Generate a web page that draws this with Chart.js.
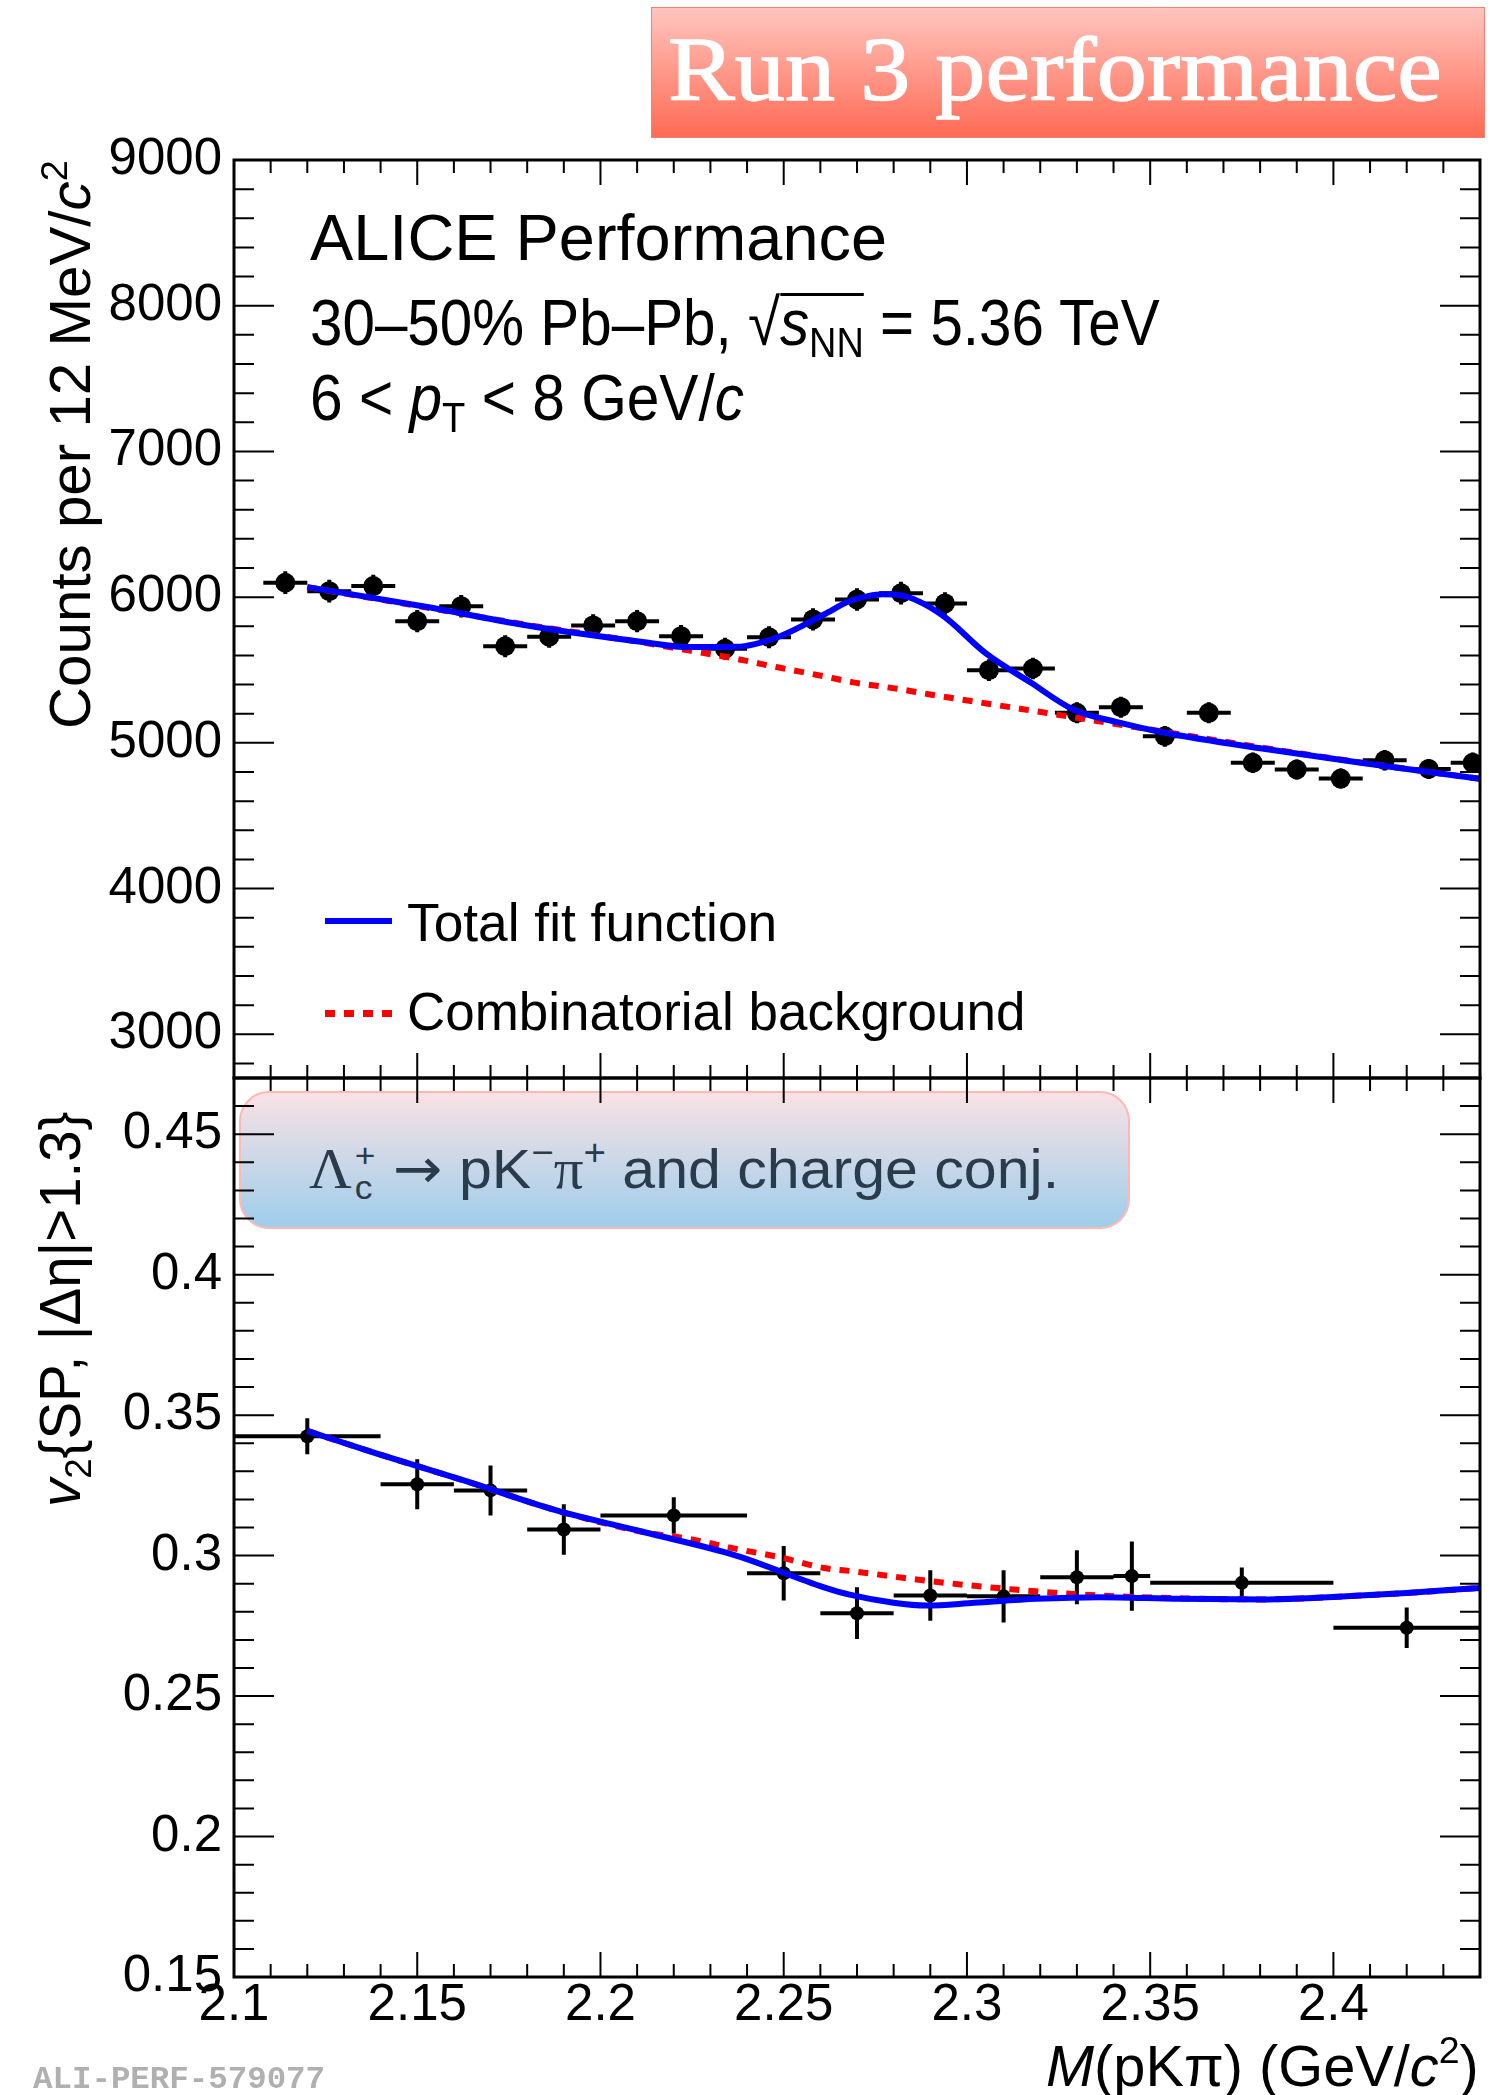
<!DOCTYPE html>
<html>
<head>
<meta charset="utf-8">
<title>Lambda_c v2 vs invariant mass</title>
<script src="https://cdn.jsdelivr.net/npm/chart.js@4.4.1/dist/chart.umd.min.js"></script>
<style>
  html, body { margin: 0; padding: 0; background: #fff; }
  body { position: relative; width: 1502px; height: 2095px; overflow: hidden;
         font-family: "Liberation Sans", Arial, sans-serif; color: #000; }
  canvas { position: absolute; left: 0; }
  .t { position: absolute; white-space: nowrap; line-height: 1; }
  .fit { display: inline-block; transform-origin: 0 0; white-space: nowrap; }
  .rot { position: absolute; transform: rotate(-90deg); transform-origin: 0 0;
         white-space: nowrap; line-height: 1; font-size: 58px; }
  sub, sup { font-size: 0.65em; line-height: 0; }
  sub { vertical-align: -0.28em; }
  sup { vertical-align: 0.62em; }
  .ov { position: relative; }
  .ov::before { content: ""; position: absolute; left: 0; right: 0; top: 0.1em; border-top: 3px solid #000; }
  .gk { font-family: "Liberation Serif", serif; }
  .arr { font-family: "DejaVu Sans", sans-serif; }
  .ss { position: relative; display: inline-block; width: 0.42em; height: 1em; }
  .ss span { position: absolute; left: 0.08em; font-size: 0.6em; }
  #run3 { position: absolute; left: 651px; top: 7px; width: 832px; height: 129px;
          border: 1px solid #ff7b6b; background: linear-gradient(#ffc5be, #ff6a55); }
  #run3 .fit { position: absolute; left: 16px; top: 16.6px; font-family: "Liberation Serif", serif;
               font-size: 90px; line-height: 1; color: #fff; -webkit-text-stroke: 1.3px #fff; }
  #lcBox { position: absolute; left: 239px; top: 1091px; width: 887px; height: 134px;
           border: 2px solid #ffb9b2; border-radius: 30px; background: linear-gradient(#f9e2e5, #9fcdea); }
</style>
</head>
<body>

<div id="lcBox"></div>
<div class="t" style="left:309px;top:1132px;font-size:56px;color:#2a3b4c">
  <span class="fit" data-w="750"><span class="gk">Λ</span><span class="ss"><span style="top:0.2em">+</span><span style="top:1.17em">c</span></span> <span class="arr">→</span> pK<sup>−</sup><span class="gk">π</span><sup>+</sup> and charge conj.</span>
</div>

<canvas id="massChart" width="1502" height="1123" style="top:0"></canvas>
<canvas id="v2Chart" width="1502" height="1062" style="top:1033px"></canvas>

<div id="run3"><span class="fit" data-w="774">Run 3 performance</span></div>

<div class="t" style="left:310px;top:205px;font-size:65px"><span class="fit" data-w="577">ALICE Performance</span></div>
<div class="t" style="left:310px;top:290px;font-size:65px"><span class="fit" data-w="850">30–50% Pb–Pb, √<span class="ov"><i>s</i><sub>NN</sub></span> = 5.36 TeV</span></div>
<div class="t" style="left:310px;top:365px;font-size:65px"><span class="fit" data-w="434">6 &lt; <i>p</i><sub>T</sub> &lt; 8 GeV/<i>c</i></span></div>

<div style="position:absolute;left:325px;top:918px;width:67px;height:6px;background:#0000ff"></div>
<div style="position:absolute;left:325px;top:1010px;width:67px;height:7px;background:repeating-linear-gradient(90deg,#ff0000 0 10px,transparent 10px 19px)"></div>
<div class="t" style="left:407px;top:895px;font-size:54px"><span class="fit" data-w="370">Total fit function</span></div>
<div class="t" style="left:407px;top:984px;font-size:54px"><span class="fit" data-w="618">Combinatorial background</span></div>

<div class="rot" style="left:41px;top:729px"><span class="fit" data-w="569">Counts per 12 MeV/<i>c</i><sup>2</sup></span></div>
<div class="rot" style="left:31px;top:1507px"><span class="fit" data-w="395"><i>v</i><sub>2</sub>{SP, |Δη|&gt;1.3}</span></div>
<div class="t" style="left:1046px;top:2037px;font-size:58px"><span class="fit" data-w="433"><i>M</i>(pKπ) (GeV/<i>c</i><sup>2</sup>)</span></div>

<div class="t" style="left:33px;top:2064px;font-size:32px;font-family:'Liberation Mono',monospace;font-weight:bold;color:#b0b0b0"><span class="fit" data-w="292">ALI-PERF-579077</span></div>

<script>
// x axis (invariant mass, GeV/c^2)
const massTicks = [2.1, 2.15, 2.2, 2.25, 2.3, 2.35, 2.4];

// top pad: counts per 12 MeV/c^2
const massBins = [2.114, 2.126, 2.138, 2.150, 2.162, 2.174, 2.186, 2.198, 2.210, 2.222,
                  2.234, 2.246, 2.258, 2.270, 2.282, 2.294, 2.306, 2.318, 2.330, 2.342,
                  2.354, 2.366, 2.378, 2.390, 2.402, 2.414, 2.426, 2.438];
const massBinHalf = [0.006, 0.006, 0.006, 0.006, 0.006, 0.006, 0.006, 0.006, 0.006, 0.006,
                     0.006, 0.006, 0.006, 0.006, 0.006, 0.006, 0.006, 0.006, 0.006, 0.006,
                     0.006, 0.006, 0.006, 0.006, 0.006, 0.006, 0.006, 0.006];
const counts = [6099, 6041, 6076, 5835, 5938, 5663, 5728, 5806, 5835, 5732,
                5646, 5725, 5847, 5984, 6027, 5957, 5499, 5510, 5206, 5245,
                5045, 5206, 4863, 4817, 4755, 4881, 4821, 4863];
const countsErr = [78, 78, 78, 76, 77, 75, 76, 76, 76, 76,
                   75, 76, 76, 77, 78, 77, 74, 74, 72, 72,
                   71, 72, 70, 69, 69, 70, 69, 70];
const countTicks = [3000, 4000, 5000, 6000, 7000, 8000, 9000];

const massFitX = [2.120, 2.1515, 2.182, 2.212, 2.224, 2.237, 2.249, 2.261, 2.268, 2.273,
                  2.277, 2.282, 2.293, 2.305, 2.3175, 2.329, 2.341, 2.354, 2.381, 2.409, 2.44];
const massFitY = [6069, 5938, 5797, 5691, 5657, 5659, 5732, 5881, 5973, 6007,
                  6019, 6012, 5881, 5618, 5412, 5229, 5142, 5069, 4959, 4858, 4753];
const massBkgX = [2.120, 2.15, 2.18, 2.21, 2.224, 2.237, 2.249, 2.261, 2.269, 2.281,
                  2.290, 2.313, 2.336, 2.354, 2.381, 2.409, 2.44];
const massBkgY = [6069, 5940, 5810, 5695, 5635, 5577, 5515, 5457, 5415, 5371,
                  5332, 5240, 5148, 5075, 4965, 4860, 4753];

// bottom pad: v2{SP}
const v2Bins = [2.12, 2.15, 2.17, 2.19, 2.22, 2.25, 2.27, 2.29, 2.31, 2.33, 2.345, 2.375, 2.42];
const v2BinHalf = [0.02, 0.01, 0.01, 0.01, 0.02, 0.01, 0.01, 0.01, 0.01, 0.01, 0.005, 0.025, 0.02];
const v2Values = [0.3425, 0.3254, 0.3232, 0.3093, 0.3143, 0.2937, 0.2795, 0.2858, 0.2855, 0.2923, 0.2927, 0.2903, 0.2743];
const v2Err = [0.0064, 0.0089, 0.0089, 0.0090, 0.0065, 0.0097, 0.0092, 0.0090, 0.0093, 0.0096, 0.0123, 0.0055, 0.0072];
const v2Ticks = [0.15, 0.2, 0.25, 0.3, 0.35, 0.4, 0.45];

const v2FitX = [2.120, 2.139, 2.164, 2.188, 2.212, 2.237, 2.261, 2.268, 2.280, 2.289,
                2.302, 2.319, 2.336, 2.358, 2.381, 2.4035, 2.420, 2.44];
const v2FitY = [0.3444, 0.3363, 0.3262, 0.3161, 0.3083, 0.3000, 0.2887, 0.2861, 0.2832, 0.2822,
                0.2832, 0.2846, 0.2852, 0.2846, 0.2844, 0.2855, 0.2867, 0.2885];
const v2BkgX = [2.120, 2.139, 2.164, 2.188, 2.212, 2.224, 2.237, 2.249, 2.261, 2.269,
                2.290, 2.313, 2.336, 2.358, 2.381, 2.4035, 2.420, 2.44];
const v2BkgY = [0.3444, 0.3363, 0.3262, 0.3161, 0.3083, 0.3060, 0.3024, 0.2994, 0.2956, 0.2944,
                0.2909, 0.2879, 0.2858, 0.2848, 0.2844, 0.2855, 0.2867, 0.2885];

Chart.defaults.font.family = "'Liberation Sans', Arial, sans-serif";
Chart.defaults.color = "#000";

function pts(xs, ys) {
    return xs.map((x, i) => ({ x: x, y: ys[i] }));
}

// ROOT style frame with inward ticks on all four sides
function rootFrame(yFirst, yLast, yMinor, yMajor) {
    return {
        id: "rootFrame",
        afterDraw(chart) {
            const ctx = chart.ctx, a = chart.chartArea;
            const xs = chart.scales.x, ys = chart.scales.y;
            ctx.save();
            ctx.strokeStyle = "#000";
            ctx.lineWidth = 2;
            ctx.beginPath();
            for (let i = 0; i <= 34; i++) {
                const px = xs.getPixelForValue(2.1 + i * 0.01);
                const len = i % 5 === 0 ? 25 : 13;
                ctx.moveTo(px, a.bottom); ctx.lineTo(px, a.bottom - len);
                ctx.moveTo(px, a.top); ctx.lineTo(px, a.top + len);
            }
            const n = Math.round((yLast - yFirst) / yMinor);
            for (let i = 0; i <= n; i++) {
                const v = yFirst + i * yMinor;
                const py = ys.getPixelForValue(v);
                const r = v / yMajor;
                const len = Math.abs(r - Math.round(r)) < 1e-6 ? 40 : 20;
                ctx.moveTo(a.left, py); ctx.lineTo(a.left + len, py);
                ctx.moveTo(a.right, py); ctx.lineTo(a.right - len, py);
            }
            ctx.stroke();
            ctx.lineWidth = 3;
            ctx.strokeRect(a.left, a.top, a.right - a.left, a.bottom - a.top);
            ctx.restore();
        }
    };
}

// horizontal (bin width) and vertical (stat.) error bars
function errorBars(xv, xe, yv, ye) {
    return {
        id: "errorBars",
        beforeDatasetsDraw(chart) {
            const ctx = chart.ctx, a = chart.chartArea;
            const xs = chart.scales.x, ys = chart.scales.y;
            ctx.save();
            ctx.beginPath();
            ctx.rect(a.left, a.top, a.right - a.left, a.bottom - a.top);
            ctx.clip();
            ctx.strokeStyle = "#000";
            ctx.lineWidth = 4;
            ctx.beginPath();
            xv.forEach((x, i) => {
                const px = xs.getPixelForValue(x);
                const py = ys.getPixelForValue(yv[i]);
                ctx.moveTo(xs.getPixelForValue(x - xe[i]), py);
                ctx.lineTo(xs.getPixelForValue(x + xe[i]), py);
                ctx.moveTo(px, ys.getPixelForValue(yv[i] - ye[i]));
                ctx.lineTo(px, ys.getPixelForValue(yv[i] + ye[i]));
            });
            ctx.stroke();
            ctx.restore();
        }
    };
}

function curve(label, xs, ys, color, dash, order) {
    return {
        label: label,
        data: pts(xs, ys),
        borderColor: color,
        borderWidth: 6,
        borderDash: dash,
        pointRadius: 0,
        cubicInterpolationMode: "monotone",
        fill: false,
        clip: 0,
        order: order
    };
}

const hiddenGrid = { display: false, drawTicks: false };
const tickFont = { size: 51 };

new Chart(document.getElementById("massChart"), {
    type: "line",
    data: {
        datasets: [
            curve("Total fit function", massFitX, massFitY, "#0000ff", [], 0),
            curve("Combinatorial background", massBkgX, massBkgY, "#ff0000", [10, 9], 1),
            {
                label: "Data",
                data: pts(massBins, counts),
                showLine: false,
                pointRadius: 10,
                pointBackgroundColor: "#000",
                pointBorderWidth: 0,
                clip: 0,
                order: 2
            }
        ]
    },
    options: {
        responsive: false,
        animation: false,
        events: [],
        layout: { padding: { left: 0, top: 160, right: 22, bottom: 45 } },
        plugins: { legend: { display: false }, tooltip: { enabled: false } },
        scales: {
            x: {
                type: "linear", min: 2.1, max: 2.44,
                grid: hiddenGrid, border: { display: false },
                ticks: { display: false },
                afterFit: s => { s.height = 0; }
            },
            y: {
                min: 2700, max: 9000,
                grid: hiddenGrid, border: { display: false },
                ticks: { font: tickFont, padding: 12, callback: v => String(v) },
                afterBuildTicks: s => { s.ticks = countTicks.map(v => ({ value: v })); },
                afterFit: s => { s.width = 234; }
            }
        }
    },
    plugins: [errorBars(massBins, massBinHalf, counts, countsErr), rootFrame(2800, 9000, 200, 1000)]
});

new Chart(document.getElementById("v2Chart"), {
    type: "line",
    data: {
        datasets: [
            curve("Total fit function", v2FitX, v2FitY, "#0000ff", [], 0),
            curve("Combinatorial background", v2BkgX, v2BkgY, "#ff0000", [10, 9], 1),
            {
                label: "v2",
                data: pts(v2Bins, v2Values),
                showLine: false,
                pointRadius: 7,
                pointBackgroundColor: "#000",
                pointBorderWidth: 0,
                clip: 0,
                order: 2
            }
        ]
    },
    options: {
        responsive: false,
        animation: false,
        events: [],
        layout: { padding: { left: 0, top: 45, right: 22, bottom: 0 } },
        plugins: { legend: { display: false }, tooltip: { enabled: false } },
        scales: {
            x: {
                type: "linear", min: 2.1, max: 2.44,
                grid: hiddenGrid, border: { display: false },
                ticks: { font: { size: 51, lineHeight: 1.15 }, padding: 0, maxRotation: 0, autoSkip: false,
                         callback: v => String(v) },
                afterBuildTicks: s => { s.ticks = massTicks.map(v => ({ value: v })); },
                afterFit: s => { s.height = 118; }
            },
            y: {
                min: 0.15, max: 0.47,
                grid: hiddenGrid, border: { display: false },
                ticks: { font: tickFont, padding: 12, callback: v => String(v) },
                afterBuildTicks: s => { s.ticks = v2Ticks.map(v => ({ value: v })); },
                afterFit: s => { s.width = 234; }
            }
        }
    },
    plugins: [errorBars(v2Bins, v2BinHalf, v2Values, v2Err), rootFrame(0.15, 0.47, 0.01, 0.05)]
});

// squeeze annotation texts to the widths they have in the figure
function fitTexts() {
    document.querySelectorAll("[data-w]").forEach(el => {
        el.style.transform = "none";
        const w = el.offsetWidth;
        if (w > 0) el.style.transform = "scaleX(" + (Number(el.dataset.w) / w) + ")";
    });
}
fitTexts();
document.fonts.ready.then(fitTexts);
</script>
</body>
</html>
